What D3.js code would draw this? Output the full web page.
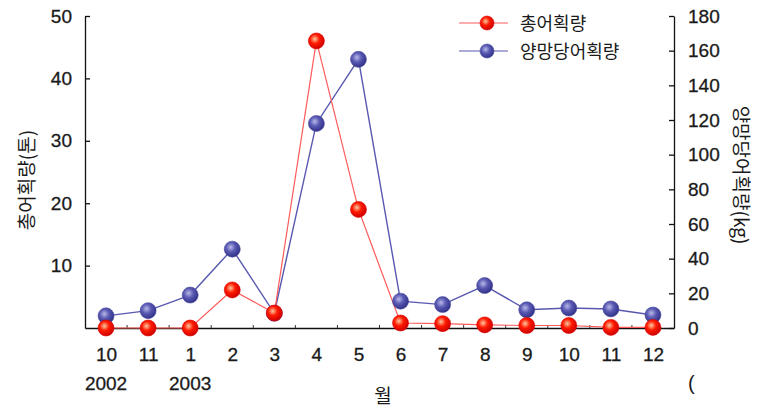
<!DOCTYPE html>
<html><head><meta charset="utf-8">
<script src="https://cdn.jsdelivr.net/npm/d3@7"></script>
<style>body{margin:0;background:#fff}svg{display:block}</style>
</head><body><svg id="c" width="758" height="409"></svg>
<script>
const months = ["10","11","1","2","3","4","5","6","7","8","9","10","11","12"];
const yearLabels = ["2002","","2003","","","","","","","","","","",""];
const totalCatch = [0,0,0,6.1,2.4,46,19,0.8,0.7,0.5,0.4,0.4,0.1,0.1];
const catchPerHaul = [7,10,19,45.5,8.5,118,155,15.5,13.5,24.5,10.5,11.5,11,7.5];
const leftTicks = [10,20,30,40,50];
const rightTicks = [0,20,40,60,80,100,120,140,160,180];
const seriesNames = ["총어획량","양망당어획량"];
const leftTitle = "총어획량(톤)";
const rightTitle = "양망당어획량(kg)";
const xTitle = "월";

const svg = d3.select("#c");
const font = "'Liberation Sans', Arial, 'Noto Sans CJK KR', sans-serif";
const kfont = "'Noto Sans CJK KR', 'Liberation Sans', sans-serif";
const L = 85, R = 674, T = 16, B = 328;
const idx = d3.range(months.length);
const x = d3.scalePoint().domain(idx).range([L, R]).padding(0.5);
const yL = d3.scaleLinear().domain([0, 50]).range([B, T]);
const yR = d3.scaleLinear().domain([0, 180]).range([B, T]);

const defs = svg.append("defs");
function grad(id, c0, c1, c2) {
  const g = defs.append("radialGradient").attr("id", id).attr("cx", "40%").attr("cy", "38%").attr("r", "65%");
  g.append("stop").attr("offset", "0%").attr("stop-color", c0);
  g.append("stop").attr("offset", "45%").attr("stop-color", c1);
  g.append("stop").attr("offset", "100%").attr("stop-color", c2);
}
grad("gr", "#ffc8a0", "#ff1a00", "#c80000");
grad("gb", "#b8b8e8", "#5a5ab4", "#2e2e84");

// axes
const ax = svg.append("g").attr("transform", `translate(${L},0)`)
  .call(d3.axisLeft(yL).tickValues(leftTicks).tickSize(-5).tickSizeOuter(0).tickPadding(13));
const ar = svg.append("g").attr("transform", `translate(${R},0)`)
  .call(d3.axisRight(yR).tickValues(rightTicks).tickSize(-5).tickSizeOuter(0).tickPadding(14));
const ab = svg.append("g").attr("transform", `translate(0,${B})`)
  .call(d3.axisBottom(x).tickSize(0).tickPadding(20).tickFormat(i => months[i]));
[ax, ar, ab].forEach(g => {
  g.selectAll("path,line").attr("stroke", "#111").attr("stroke-width", 1.3);
  g.selectAll("text").attr("font-family", font).attr("font-size", 19).attr("fill", "#1a1a1a")
    .attr("stroke", "#1a1a1a").attr("stroke-width", 0.3);
});
// year labels
svg.append("g").selectAll("text").data(idx.filter(i => yearLabels[i]))
  .join("text").attr("x", i => x(i)).attr("y", 390).attr("text-anchor", "middle")
  .attr("font-family", font).attr("font-size", 19).attr("fill", "#1a1a1a")
  .attr("stroke", "#1a1a1a").attr("stroke-width", 0.3).text(i => yearLabels[i]);
// minor x ticks at midpoints
svg.append("g").selectAll("line").data(idx.slice(0, -1)).join("line")
  .attr("x1", i => (x(i) + x(i + 1)) / 2).attr("x2", i => (x(i) + x(i + 1)) / 2)
  .attr("y1", B).attr("y2", B - 3).attr("stroke", "#333").attr("stroke-width", 1);

// titles
svg.append("text").attr("transform", "translate(34,180) rotate(-90)").attr("text-anchor", "middle")
  .attr("font-family", kfont).attr("font-size", 19).attr("fill", "#1a1a1a").text(leftTitle);
svg.append("text").attr("transform", "translate(734,175) rotate(90)").attr("text-anchor", "middle")
  .attr("font-family", kfont).attr("font-size", 19).attr("fill", "#1a1a1a").text(rightTitle);
svg.append("text").attr("x", 383).attr("y", 403).attr("text-anchor", "middle")
  .attr("font-family", kfont).attr("font-size", 19).attr("fill", "#1a1a1a").text(xTitle);
svg.append("text").attr("x", 688).attr("y", 390)
  .attr("font-family", font).attr("font-size", 20).attr("fill", "#1a1a1a").text("(");

// lines
const lineB = d3.line().x((d, i) => x(i)).y(d => yR(d));
const lineR = d3.line().x((d, i) => x(i)).y(d => yL(d));
svg.append("path").attr("d", lineB(catchPerHaul)).attr("fill", "none").attr("stroke", "#5858b0").attr("stroke-width", 1.4);
svg.append("path").attr("d", lineR(totalCatch)).attr("fill", "none").attr("stroke", "#ff5a5a").attr("stroke-width", 1.2);

// markers
svg.append("g").selectAll("circle").data(catchPerHaul).join("circle")
  .attr("cx", (d, i) => x(i)).attr("cy", d => yR(d)).attr("r", 8)
  .attr("fill", "url(#gb)").attr("stroke", "#4a4aa0").attr("stroke-width", 0.6);
svg.append("g").selectAll("circle").data(totalCatch).join("circle")
  .attr("cx", (d, i) => x(i)).attr("cy", d => yL(d)).attr("r", 8)
  .attr("fill", "url(#gr)").attr("stroke", "#e00000").attr("stroke-width", 0.6);

// legend
const leg = svg.append("g");
[["gr", "#ff5a5a", 23], ["gb", "#5858b0", 51]].forEach((s, k) => {
  leg.append("line").attr("x1", 459).attr("x2", 508).attr("y1", s[2]).attr("y2", s[2])
    .attr("stroke", s[1]).attr("stroke-width", 1.2);
  leg.append("circle").attr("cx", 487).attr("cy", s[2]).attr("r", 7)
    .attr("fill", `url(#${s[0]})`).attr("stroke", k ? "#4a4aa0" : "#e00000").attr("stroke-width", 0.6);
  leg.append("text").attr("x", 520).attr("y", s[2] + 7).attr("font-family", kfont)
    .attr("font-size", 18).attr("fill", "#1a1a1a").text(seriesNames[k]);
});
</script></body></html>
